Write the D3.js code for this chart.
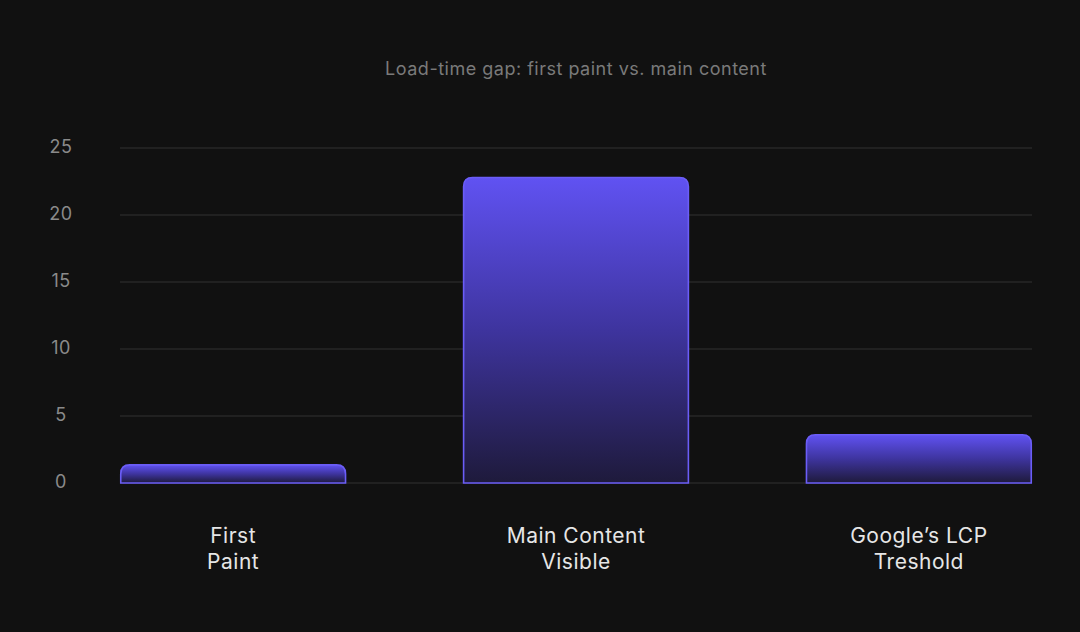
<!DOCTYPE html>
<html>
<head>
<meta charset="utf-8">
<script src="https://cdn.jsdelivr.net/npm/d3@7"></script>
<style>
  html, body { margin: 0; padding: 0; background: #111111; }
  svg { display: block; font-family: Inter, "Noto Sans", sans-serif; }
</style>
</head>
<body>
<div id="chart"></div>
<script>
// Chart data
var categories = ["First\nPaint", "Main Content\nVisible", "Google\u2019s LCP\nTreshold"];
var values = [1.35, 22.8, 3.6];
var yTicks = [0, 5, 10, 15, 20, 25];
var title = "Load-time gap: first paint vs. main content";

var svgWidth = 1080;
var svgHeight = 632;
var margin = { top: 148, right: 48, bottom: 149, left: 120 };
var chartWidth = svgWidth - margin.left - margin.right;
var chartHeight = svgHeight - margin.top - margin.bottom;

var svg = d3.select("#chart")
  .append("svg")
  .attr("width", svgWidth)
  .attr("height", svgHeight);

svg.append("rect")
  .attr("width", svgWidth)
  .attr("height", svgHeight)
  .attr("fill", "#111111");

// Gradient for the bars
var grad = svg.append("defs").append("linearGradient")
  .attr("id", "barGrad")
  .attr("x1", 0).attr("y1", 0).attr("x2", 0).attr("y2", 1);
grad.append("stop").attr("offset", "0%").attr("stop-color", "#6052f2");
grad.append("stop").attr("offset", "50%").attr("stop-color", "#3e349e");
grad.append("stop").attr("offset", "100%").attr("stop-color", "#1e1a3b");

var chartGroup = svg.append("g")
  .attr("transform", `translate(${margin.left}, ${margin.top})`);

var xBand = d3.scaleBand()
  .domain(categories)
  .range([0, chartWidth])
  .paddingInner(0.34)
  .paddingOuter(0);

var yLinear = d3.scaleLinear()
  .domain([0, 25])
  .range([chartHeight, 0]);

// Grid lines
chartGroup.selectAll(".grid")
  .data(yTicks)
  .enter()
  .append("line")
  .attr("x1", 0)
  .attr("x2", chartWidth)
  .attr("y1", d => yLinear(d))
  .attr("y2", d => yLinear(d))
  .attr("stroke", "#333333")
  .attr("stroke-width", 1);

// Y tick labels
chartGroup.selectAll(".ytick")
  .data(yTicks)
  .enter()
  .append("text")
  .attr("x", -59)
  .attr("y", d => yLinear(d) - 1)
  .attr("dy", "0.35em")
  .attr("text-anchor", "middle")
  .attr("fill", "#8a8a8a")
  .attr("font-size", 18)
  .attr("letter-spacing", 0.5)
  .text(d => d);

// Bars with rounded top corners
function barPath(x, y, w, h, r) {
  r = Math.min(r, h, w / 2);
  return `M${x},${y + h}V${y + r}Q${x},${y} ${x + r},${y}H${x + w - r}Q${x + w},${y} ${x + w},${y + r}V${y + h}Z`;
}

chartGroup.selectAll(".bar")
  .data(values)
  .enter()
  .append("path")
  .attr("d", (d, i) => {
    var x = xBand(categories[i]);
    var y = yLinear(d);
    return barPath(x + 0.75, y, xBand.bandwidth() - 1.5, chartHeight - y, 9);
  })
  .attr("fill", "url(#barGrad)")
  .attr("stroke", "#6b5df7")
  .attr("stroke-width", 1.6);

// Category labels
var labels = chartGroup.selectAll(".xlabel")
  .data(categories)
  .enter()
  .append("text")
  .attr("x", d => xBand(d) + xBand.bandwidth() / 2)
  .attr("y", chartHeight + 60)
  .attr("text-anchor", "middle")
  .attr("fill", "#e6e6e6")
  .attr("font-size", 21)
  .attr("letter-spacing", 0.5);

labels.selectAll("tspan")
  .data(d => d.split("\n"))
  .enter()
  .append("tspan")
  .attr("x", function() { return d3.select(this.parentNode).attr("x"); })
  .attr("dy", (d, i) => i === 0 ? 0 : 26)
  .text(d => d);

// Title
svg.append("text")
  .attr("x", 576)
  .attr("y", 75)
  .attr("text-anchor", "middle")
  .attr("fill", "#7a7a7a")
  .attr("font-size", 18)
  .attr("letter-spacing", 0.5)
  .text(title);
</script>
</body>
</html>
